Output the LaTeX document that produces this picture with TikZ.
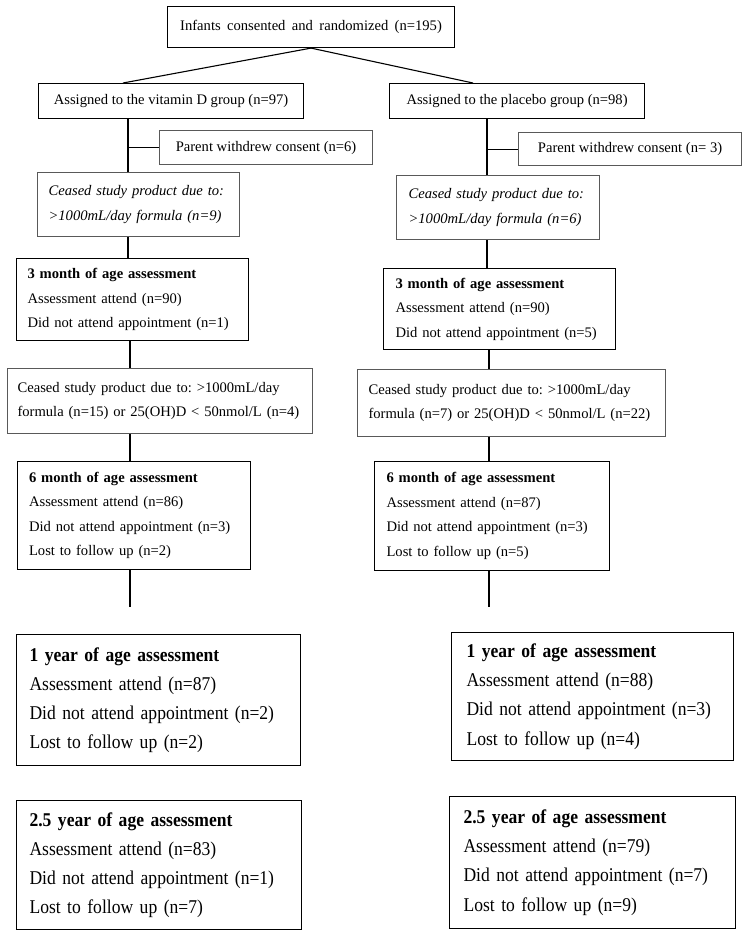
\documentclass[tikz,border=0pt]{standalone}
\usepackage{fontspec}
\setmainfont{Liberation Serif}
\newfontfamily\condfont{Liberation Serif}[FakeStretch=0.9]
\frenchspacing
\begin{document}
\begin{tikzpicture}[x=1pt,y=-1pt,
  bx/.style={draw=black, line width=1.1pt, rectangle, anchor=north west, inner ysep=0pt, align=left},
  gbx/.style={bx, draw=black!65},
  sm/.style={font=\fontsize{14.6}{24.5}\selectfont\frenchspacing},
  lg/.style={font=\condfont\fontsize{19.5}{29.2}\selectfont\frenchspacing},
  conn/.style={line width=1.1pt, draw=black}]
\useasboundingbox[fill=white] (0,0) rectangle (743,935);

% spines
\coordinate (Ls) at (128,0);
\coordinate (Ls2) at (130,0);
\coordinate (Rs) at (487,0);
\coordinate (Rs2) at (489,0);

\node[bx,sm,align=center,inner xsep=0pt,minimum width=287,minimum height=41] (top) at (167,6)
  {\spaceskip=6.4pt plus 1pt minus 1pt Infants consented and randomized (n=195)};

\node[bx,sm,align=center,inner xsep=0pt,minimum width=265,minimum height=35] (LA) at (38,83)
  {Assigned to the vitamin D group (n=97)};
\node[bx,sm,align=center,inner xsep=0pt,minimum width=255,minimum height=35] (RA) at (389,83)
  {Assigned to the placebo group (n=98)};

\node[gbx,sm,align=center,inner xsep=0pt,minimum width=213,minimum height=34] (LW) at (159,130)
  {Parent withdrew consent (n=6)};
\node[gbx,sm,align=center,inner xsep=0pt,minimum width=223,minimum height=33] (RW) at (518,132)
  {Parent withdrew consent (n= 3)};

\node[gbx,sm,inner xsep=11pt,text width=180,minimum width=202,minimum height=64] (LC1) at (37,172)
  {\itshape Ceased study product due to:\\ \itshape >1000mL/day formula (n=9)};
\node[gbx,sm,inner xsep=12pt,text width=179,minimum width=203,minimum height=64] (RC1) at (396,175)
  {\itshape Ceased study product due to:\\ \itshape >1000mL/day formula (n=6)};

\node[bx,sm,inner xsep=11pt,text width=210,minimum width=232,minimum height=82] (L3) at (16,258)
  {\textbf{3 month of age assessment}\\Assessment attend (n=90)\\Did not attend appointment (n=1)};
\node[bx,sm,inner xsep=12pt,text width=208,minimum width=232,minimum height=81] (R3) at (383,268)
  {\textbf{3 month of age assessment}\\Assessment attend (n=90)\\Did not attend appointment (n=5)};

\node[gbx,sm,inner xsep=10pt,text width=285,minimum width=305,minimum height=65] (LC2) at (7,368)
  {\mbox{Ceased study product due to: >1000mL/day}\\\mbox{formula (n=15) or 25(OH)D < 50nmol/L (n=4)}};
\node[gbx,sm,inner xsep=11pt,text width=286,minimum width=308,minimum height=67] (RC2) at (357,369)
  {\mbox{Ceased study product due to: >1000mL/day}\\\mbox{formula (n=7) or 25(OH)D < 50nmol/L (n=22)}};

\node[bx,sm,inner xsep=11.5pt,text width=210,minimum width=233,minimum height=108] (L6) at (17,461)
  {\textbf{6 month of age assessment}\\Assessment attend (n=86)\\Did not attend appointment (n=3)\\Lost to follow up (n=2)};
\node[bx,sm,inner xsep=12pt,text width=211,minimum width=235,minimum height=109] (R6) at (374,461)
  {\textbf{6 month of age assessment}\\Assessment attend (n=87)\\Did not attend appointment (n=3)\\Lost to follow up (n=5)};

\node[bx,lg,inner xsep=13pt,text width=258,minimum width=284,minimum height=131] (L1) at (16,634)
  {\textbf{1 year of age assessment}\\Assessment attend (n=87)\\Did not attend appointment (n=2)\\Lost to follow up (n=2)};
\node[bx,lg,inner xsep=15pt,text width=252,minimum width=282,minimum height=128] (R1) at (451,632)
  {\textbf{1 year of age assessment}\\Assessment attend (n=88)\\Did not attend appointment (n=3)\\Lost to follow up (n=4)};

\node[bx,lg,inner xsep=13pt,text width=259,minimum width=285,minimum height=129] (L25) at (16,800)
  {\textbf{2.5 year of age assessment}\\Assessment attend (n=83)\\Did not attend appointment (n=1)\\Lost to follow up (n=7)};
\node[bx,lg,inner xsep=14pt,text width=258,minimum width=286,minimum height=132] (R25) at (449,796)
  {\textbf{2.5 year of age assessment}\\Assessment attend (n=79)\\Did not attend appointment (n=7)\\Lost to follow up (n=9)};

% connectors
\coordinate (jl) at (123,83);
\coordinate (jr) at (473,83);
\draw[conn] (jl) -- (top.south) -- (jr);

\draw[conn] (LA.south -| Ls) -- (LC1.north -| Ls);
\draw[conn] (LW.west -| Ls) -- (LW.west);
\draw[conn] (LC1.south -| Ls) -- (L3.north -| Ls);
\draw[conn] (L3.south -| Ls2) -- (LC2.north -| Ls2);
\draw[conn] (LC2.south -| Ls2) -- (L6.north -| Ls2);
\coordinate (Lend) at (130,607);
\draw[conn] (L6.south -| Ls2) -- (Lend);

\draw[conn] (RA.south -| Rs) -- (RC1.north -| Rs);
\draw[conn] (RW.west -| Rs) -- (RW.west);
\draw[conn] (RC1.south -| Rs) -- (R3.north -| Rs);
\draw[conn] (R3.south -| Rs2) -- (RC2.north -| Rs2);
\draw[conn] (RC2.south -| Rs2) -- (R6.north -| Rs2);
\coordinate (Rend) at (489,607);
\draw[conn] (R6.south -| Rs2) -- (Rend);
\end{tikzpicture}
\end{document}
